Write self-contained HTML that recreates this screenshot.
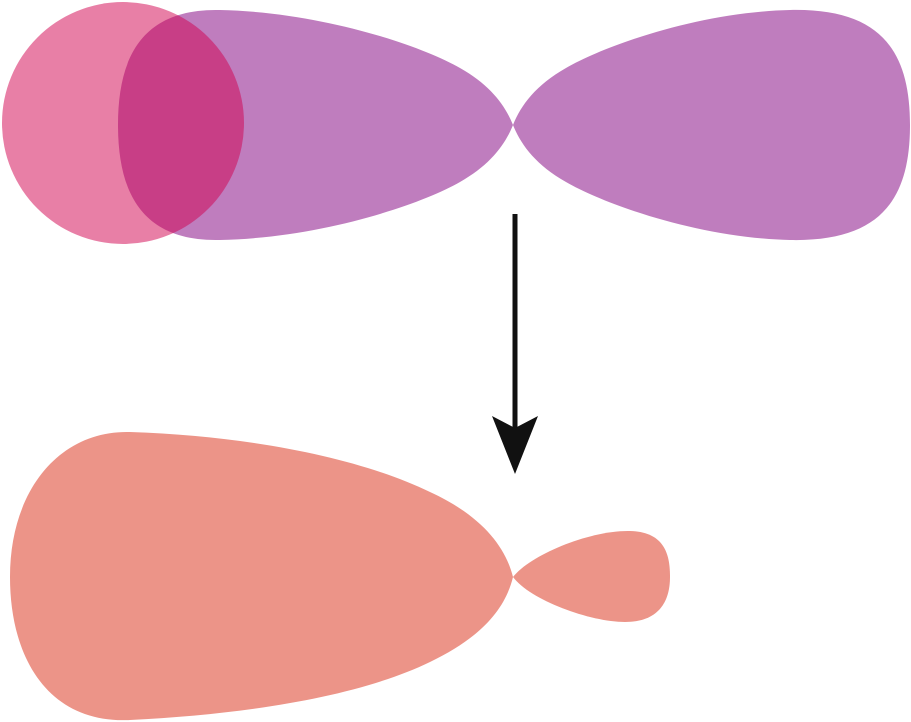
<!DOCTYPE html>
<html><head><style>html,body{margin:0;padding:0;background:#fff}svg{display:block}</style></head>
<body>
<svg width="911" height="722" viewBox="0 0 911 722" xmlns="http://www.w3.org/2000/svg">
<path d="M513,125 C505,105 490,85 460,68 C420,45 320,12 220,10 C140,8 118,60 118,125 C118,190 140,242 220,240 C320,238 420,205 460,182 C490,165 505,145 513,125 Z" fill="#bf7dbe"/>
<path d="M513,125 C521,105 536,85 566,68 C606,45 700,12 790,10 C880,8 910,50 910,125 C910,200 880,242 790,240 C700,238 606,205 566,182 C536,165 521,145 513,125 Z" fill="#bf7dbe"/>
<circle cx="123" cy="123" r="121" fill="#d1004d" fill-opacity="0.5"/>
<line x1="515" y1="214" x2="515" y2="430" stroke="#111" stroke-width="5"/>
<path d="M492,416 L515,428 L538,416 L515,474 Z" fill="#111"/>
<path d="M513,577 C505,545 480,515 430,492 C360,458 250,436 130,432 C60,430 10,490 10,577 C10,660 50,724 130,720 C250,714 360,696 430,662 C480,638 505,610 513,577 Z" fill="#ec9488"/>
<path d="M513,577 C530,555 590,530 630,531 C665,532 670,555 670,577 C670,600 660,622 625,622 C590,622 530,600 513,577 Z" fill="#ec9488"/>
</svg>
</body></html>
